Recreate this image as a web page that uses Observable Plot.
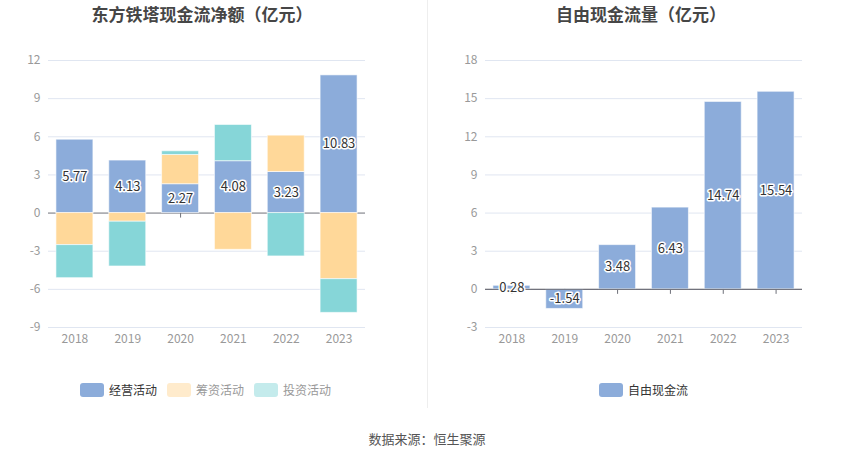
<!DOCTYPE html>
<html><head><meta charset="utf-8">
<script src="https://cdn.jsdelivr.net/npm/d3@7"></script>
<script src="https://cdn.jsdelivr.net/npm/@observablehq/plot@0.6"></script>
<style>
body{margin:0;background:#fff;font-family:"Noto Sans CJK SC",sans-serif;}
#root{position:relative;width:850px;height:458px;overflow:hidden;background:#fff;}
.title{position:absolute;top:2px;font-size:17px;font-weight:bold;color:#464646;text-align:center;line-height:24px;}
.divider{position:absolute;left:427px;top:0;width:1px;height:408px;background:#eee;}
.chart{position:absolute;top:0;}
.legend{position:absolute;top:382px;display:flex;font-size:12px;line-height:16px;}
.item{display:flex;align-items:center;margin-right:10px;}
.sw{width:24px;height:14px;border-radius:3px;margin-right:5px;}
.footer{position:absolute;top:429px;left:0;width:854px;text-align:center;font-size:13px;color:#555;line-height:20px;}
</style>
</head>
<body>
<div id="root">
  <div class="title" style="left:0;width:404px;">东方铁塔现金流净额（亿元）</div>
  <div class="title" style="left:425px;width:432px;">自由现金流量（亿元）</div>
  <div class="divider"></div>
  <div class="chart" id="left" style="left:0;"></div>
  <div class="chart" id="right" style="left:425px;"></div>
  <div class="legend" id="legL" style="left:80px;"></div>
  <div class="legend" id="legR" style="left:599px;"></div>
  <div class="footer">数据来源：恒生聚源</div>
</div>
<script>
const years = ["2018", "2019", "2020", "2021", "2022", "2023"];
const opCash = [5.77, 4.13, 2.27, 4.08, 3.23, 10.83];
const finCash = [-2.52, -0.68, 2.30, -2.89, 2.86, -5.20];
const invCash = [-2.60, -3.52, 0.29, 2.85, -3.41, -2.65];
const freeCash = [0.28, -1.54, 3.48, 6.43, 14.74, 15.54];
const seriesNames = ["经营活动", "筹资活动", "投资活动"];
const seriesColors = ["#8CACDA", "#FFD899", "#86D6D8"];
const legendSwatches = ["#8CACDA", "#FFEBCC", "#C4EBEC"];
const legendText = ["#333", "#999", "#999"];
const freeName = "自由现金流";
const leftTicks = [-9, -6, -3, 0, 3, 6, 9, 12];
const rightTicks = [-3, 0, 3, 6, 9, 12, 15, 18];

const FONT = '"Noto Sans CJK SC", sans-serif';
const GRID = "#E0E6F1";
const AXIS = "#6E7079";
const TICKTXT = "#999";

const seriesArrays = [opCash, finCash, invCash];
const rows = [];
years.forEach((yr, i) => {
  seriesArrays.forEach((arr, k) => rows.push({year: yr, series: seriesNames[k], value: arr[i]}));
});
const opRows = years.map((yr, i) => ({year: yr, value: opCash[i]}));
const freeRows = years.map((yr, i) => ({year: yr, value: freeCash[i]}));

function common(ticks, marginLeft, marginRight) {
  return {
    width: 425, height: 360,
    marginTop: 60, marginBottom: 33, marginLeft, marginRight,
    style: {fontFamily: FONT, fontSize: "12px", background: "transparent"},
    x: {domain: years, paddingInner: 0.3, paddingOuter: 0.15, round: false, label: null},
    y: {domain: [ticks[0], ticks[ticks.length - 1]], label: null},
  };
}

function axes(ticks) {
  return [
    Plot.gridY(ticks.filter(t => t !== 0), {stroke: GRID, strokeOpacity: 1}),
    Plot.axisY({ticks, tickSize: 0, tickPadding: 8, fill: TICKTXT, label: null, tickFormat: d => String(d)}),
    Plot.axisX({tickSize: 0, tickPadding: 7, fill: TICKTXT, label: null}),
  ];
}

function zeroLine() {
  return [
    Plot.ruleY([0], {stroke: AXIS, strokeWidth: 1}),
    Plot.ruleX(years, {x: d => d, y1: 0, y2: 0, insetBottom: -5, stroke: AXIS, strokeWidth: 1}),
  ];
}

const left = Plot.plot({
  ...common(leftTicks, 48, 60),
  color: {domain: seriesNames, range: seriesColors},
  marks: [
    ...axes(leftTicks),
    ...zeroLine(),
    Plot.barY(rows, {x: "year", y: "value", fill: "series", stroke: "#fff", strokeOpacity: 0.6, strokeWidth: 1}),
    Plot.text(opRows, {x: "year", y: d => d.value / 2, text: d => d.value.toFixed(2),
      fill: "#333", stroke: "#fff", strokeWidth: 3, fontSize: 13}),
  ]
});
document.getElementById("left").appendChild(left);

const right = Plot.plot({
  ...common(rightTicks, 60, 48),
  marks: [
    ...axes(rightTicks),
    ...zeroLine(),
    Plot.barY(freeRows, {x: "year", y: "value", fill: seriesColors[0], stroke: "#fff", strokeOpacity: 0.6, strokeWidth: 1}),
    Plot.ruleY([0], {stroke: AXIS, strokeWidth: 1}),
    Plot.text(freeRows, {x: "year", y: d => d.value / 2, text: d => d.value.toFixed(2),
      fill: "#333", stroke: "#fff", strokeWidth: 3, fontSize: 13}),
  ]
});
document.getElementById("right").appendChild(right);

function legend(el, names, colors, texts) {
  names.forEach((n, i) => {
    const it = document.createElement("div");
    it.className = "item";
    it.innerHTML = `<div class="sw" style="background:${colors[i]}"></div><span style="color:${texts[i]}">${n}</span>`;
    el.appendChild(it);
  });
}
legend(document.getElementById("legL"), seriesNames, legendSwatches, legendText);
legend(document.getElementById("legR"), [freeName], [seriesColors[0]], ["#333"]);
</script>
</body></html>
